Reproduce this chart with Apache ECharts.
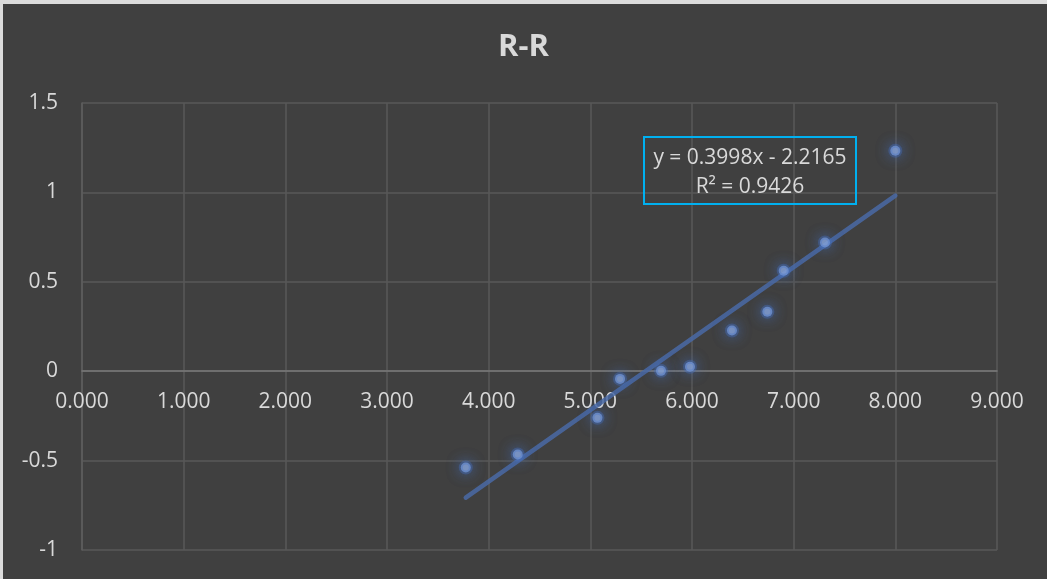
<!DOCTYPE html>
<html>
<head>
<meta charset="utf-8">
<script src="https://cdn.jsdelivr.net/npm/echarts@6/dist/echarts.min.js"></script>
<style>
html,body{margin:0;padding:0;background:#dcdcdc;}
#chart{width:1047px;height:579px;}
</style>
</head>
<body>
<div id="chart"></div>
<script>
// Data
const xValues = [3.775, 4.286, 5.070, 5.292, 5.695, 5.980, 6.393, 6.741, 6.902, 7.308, 8.000];
const yValues = [-0.539, -0.466, -0.261, -0.043, 0.002, 0.025, 0.228, 0.332, 0.562, 0.720, 1.233];
const trendSlope = 0.3998;
const trendIntercept = -2.2165;
const equationLines = ['y = 0.3998x - 2.2165', 'R² = 0.9426'];
const titleText = 'R-R';

const points = xValues.map((x, i) => [x, yValues[i]]);
const xMin = Math.min(...xValues), xMax = Math.max(...xValues);
const trend = [[xMin, trendSlope * xMin + trendIntercept], [xMax, trendSlope * xMax + trendIntercept]];

const chart = echarts.init(document.getElementById('chart'));
const FONT = 'Open Sans';
chart.setOption({
  backgroundColor: '#404040',
  animation: false,
  title: {
    text: titleText, left: 'center', top: 27,
    textStyle: {color: '#d9d9d9', fontFamily: FONT, fontWeight: 'bold', fontSize: 31}
  },
  grid: {left: 82, right: 50, top: 103, bottom: 29, outerBoundsMode: 'none', containLabel: false},
  xAxis: {
    type: 'value', min: 0, max: 9, interval: 1,
    offset: -179,
    axisLine: {onZero: false, lineStyle: {color: '#7a7a7a', width: 1.5}},
    axisTick: {show: false},
    axisLabel: {color: '#d9d9d9', fontFamily: FONT, fontSize: 21, margin: 21,
      formatter: v => v.toFixed(3)},
    splitLine: {show: true, lineStyle: {color: '#585858', width: 1.5}}
  },
  yAxis: {
    type: 'value', min: -1, max: 1.5, interval: 0.5,
    axisLine: {show: true, onZero: false, lineStyle: {color: '#5e5e5e', width: 1.5}},
    axisTick: {show: false},
    axisLabel: {color: '#d9d9d9', fontFamily: FONT, fontSize: 21, margin: 24},
    splitLine: {show: true, lineStyle: {color: '#585858', width: 1.5}}
  },
  series: [
    {
      type: 'line', data: trend, symbol: 'none', z: 2,
      lineStyle: {color: '#4a6aa6', width: 4.5, opacity: 0.85, cap: 'round'}
    },
    {
      type: 'scatter', data: points, symbolSize: 10, z: 3,
      itemStyle: {color: '#8faadc', borderColor: 'rgba(68,114,196,0.45)', borderWidth: 4,
        shadowColor: 'rgba(68,114,196,1)', shadowBlur: 14}
    }
  ],
  graphic: [
    {type: 'rect', x: 0, y: 0, shape: {width: 1047, height: 4}, style: {fill: '#dcdcdc'}, z: 100},
    {type: 'rect', x: 0, y: 0, shape: {width: 3, height: 579}, style: {fill: '#dcdcdc'}, z: 100},
    {type: 'rect', x: 644, y: 137, shape: {width: 212, height: 67},
      style: {fill: 'rgba(0,0,0,0)', stroke: '#00b0f0', lineWidth: 2}, z: 50},
    {type: 'text', x: 750, y: 158,
      style: {text: equationLines[0], fill: '#d9d9d9', font: '21px "Open Sans"', align: 'center', verticalAlign: 'middle'}, z: 51},
    {type: 'text', x: 750, y: 187,
      style: {text: equationLines[1], fill: '#d9d9d9', font: '21px "Open Sans"', align: 'center', verticalAlign: 'middle'}, z: 51}
  ]
});
</script>
</body>
</html>
